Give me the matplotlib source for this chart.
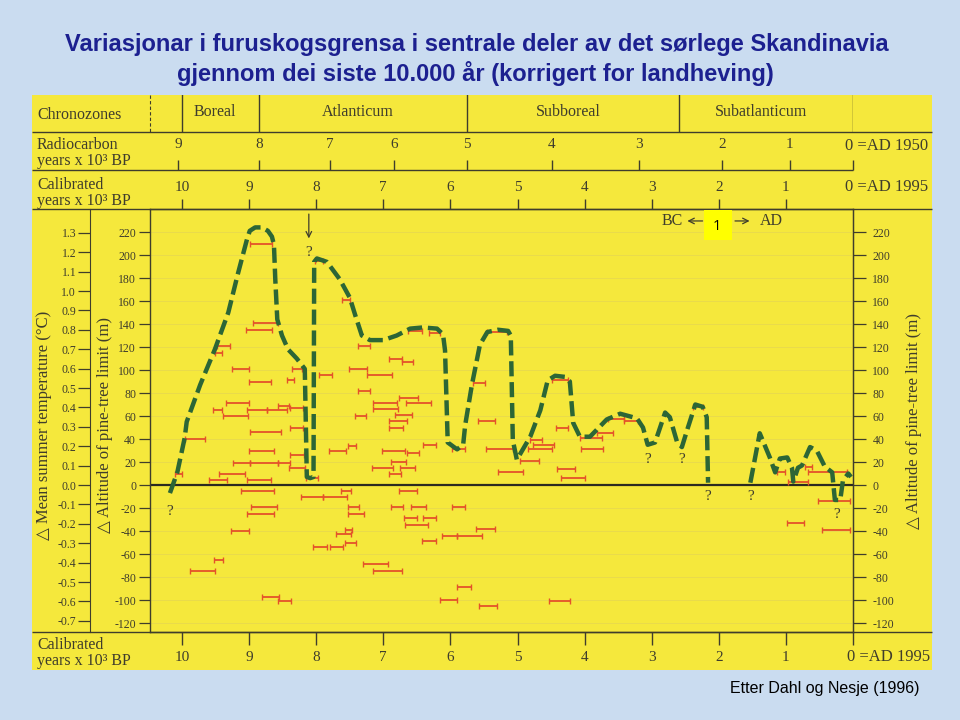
import matplotlib.pyplot as plt
from matplotlib.patches import Rectangle

# values: calibrated kyr BP and metres relative to present pine limit
curve1_kyr = [10.18, 10.07, 9.96, 9.93, 9.73, 9.51, 9.31, 9.17, 9.03, 8.99,
              8.91, 8.81, 8.72, 8.66, 8.63, 8.61, 8.58, 8.51, 8.42, 8.29,
              8.17, 8.14, 8.09, 8.04, 8.03, 7.99, 7.84, 7.65, 7.50, 7.42,
              7.32, 7.20, 7.00, 6.80, 6.60, 6.41, 6.20, 6.11, 6.08, 6.04,
              5.90, 5.81, 5.78, 5.68, 5.56, 5.45, 5.29, 5.14, 5.10, 5.07,
              5.01, 4.81, 4.66, 4.55, 4.44, 4.29, 4.22, 4.17, 4.07, 3.92,
              3.67, 3.47, 3.22, 3.13, 3.06, 2.95, 2.80, 2.73, 2.62, 2.55,
              2.46, 2.35, 2.24, 2.18, 2.16]
curve1_m = [-7, 11, 41, 55, 87, 118, 150, 183, 214, 221,
            224, 224, 221, 216, 209, 179, 144, 130, 118, 110,
            101, 7, 6, 7, 194, 197, 194, 179, 163, 148,
            130, 126, 126, 130, 136, 137, 136, 131, 117, 37,
            31, 35, 52, 87, 122, 133, 135, 134, 130, 39,
            22, 42, 65, 91, 95, 94, 90, 54, 42, 42,
            57, 62, 58, 50, 35, 37, 63, 59, 37, 33,
            50, 70, 68, 59, 2]
curve2_kyr = [1.53, 1.39, 1.24, 1.16, 1.09, 0.98, 0.91, 0.89, 0.82, 0.76,
              0.64, 0.54, 0.42, 0.31, 0.27, 0.19, 0.15, 0.07, 0.03]
curve2_m = [2, 45, 24, 11, 23, 24, 15, 3, 15, 17,
            33, 30, 16, 11, -13, -13, 4, 10, 7]

# dated megafossils: age range (old -> young) and altitude
bar_old = [8.99, 7.62, 8.94, 9.05, 9.48, 9.51, 7.38, 6.92, 6.72, 9.25,
           8.36, 7.51, 7.96, 7.24, 9.00, 8.44, 7.38, 5.66, 6.77, 9.34,
           7.15, 6.66, 9.54, 9.03, 8.73, 8.57, 8.39, 7.15, 9.39, 7.42,
           6.83, 6.92, 5.59, 6.92, 8.39, 5.45, 6.32, 6.63, 8.02, 8.99,
           9.96, 9.00, 7.81, 7.53, 7.02, 6.65, 6.41, 5.98, 5.47, 8.39,
           9.24, 8.99, 8.57, 6.89, 8.40, 7.17, 6.75, 6.92, 9.45, 10.10,
           9.60, 9.03, 8.15, 9.12, 7.63, 6.77, 8.23, 7.90, 8.97, 9.03,
           7.53, 7.53, 6.89, 6.59, 5.98, 6.69, 6.41, 6.68, 9.27, 7.57,
           7.70, 7.57, 8.05, 7.79, 6.42, 6.13, 5.90, 5.62, 9.52, 9.88,
           7.30, 7.15, 5.90, 6.15, 5.57, 8.81, 8.57, 5.29, 4.96, 4.84,
           4.77, 4.81, 4.41, 4.35, 4.05, 4.07, 3.82, 4.43, 4.53, 1.13,
           0.97, 0.72, 0.67, 0.52, 0.98, 0.46, 4.49, 3.65, 3.41, 2.38]
bar_young = [8.66, 7.50, 8.57, 8.66, 9.28, 9.40, 7.20, 6.72, 6.56, 9.00,
             8.21, 7.24, 7.76, 6.87, 8.67, 8.33, 7.20, 5.48, 6.48, 9.00,
             6.80, 6.29, 9.40, 8.73, 8.44, 8.40, 8.20, 6.78, 9.02, 7.26,
             6.57, 6.65, 5.34, 6.71, 8.20, 5.16, 6.15, 6.42, 7.90, 8.52,
             9.66, 8.63, 7.56, 7.41, 6.68, 6.47, 6.21, 5.78, 5.07, 8.18,
             8.99, 8.57, 8.39, 6.66, 8.17, 6.86, 6.53, 6.74, 9.06, 10.00,
             9.33, 8.67, 7.97, 8.63, 7.48, 6.50, 7.90, 7.54, 8.58, 8.63,
             7.36, 7.29, 6.71, 6.36, 5.78, 6.50, 6.21, 6.33, 9.00, 7.47,
             7.48, 7.41, 7.84, 7.60, 6.21, 5.90, 5.53, 5.34, 9.39, 9.51,
             6.93, 6.72, 5.69, 5.90, 5.31, 8.55, 8.38, 4.92, 4.68, 4.49,
             4.46, 4.63, 4.14, 3.99, 3.73, 3.74, 3.58, 4.25, 4.22, 1.01,
             0.67, 0.61, 0.09, 0.04, 0.73, 0.04, 4.25, 3.41, 3.20, 2.24]
bar_alt = [210, 161, 141, 135, 121, 115, 121, 110, 107, 101,
           101, 101, 96, 96, 90, 91, 82, 89, 76, 71,
           71, 71, 65, 65, 65, 69, 67, 66, 60, 60,
           61, 56, 56, 50, 50, 133, 132, 134, 195, 46,
           40, 30, 30, 34, 30, 28, 35, 31, 31, 26,
           19, 19, 19, 20, 15, 15, 15, 10, 10, 10,
           4, 4, 6, -5, -5, -5, -10, -10, -19, -25,
           -19, -25, -19, -19, -19, -29, -29, -35, -40, -39,
           -43, -50, -54, -54, -49, -44, -44, -38, -65, -75,
           -69, -75, -89, -100, -105, -97, -101, 11, 21, 31,
           35, 39, 14, 6, 31, 41, 45, 50, -101, 11,
           3, 16, 11, -14, -33, -39, 91, 57, 56, 68]

question_kyr = [10.18, 8.11, 3.06, 2.55, 2.16, 1.53, 0.24]
question_m = [-23, 202, 22, 22, -10, -10, -26]

chronozones = ['Boreal', 'Atlanticum', 'Subboreal', 'Subatlanticum']
chrono_bounds = [10.0, 8.85, 5.75, 2.59, 0.0]
radiocarbon_kyr = [9, 8, 7, 6, 5, 4, 3, 2, 1, 0]
radiocarbon_as_cal = [10.06, 8.85, 7.79, 6.84, 5.75, 4.49, 3.19, 1.95, 0.94, 0.0]
cal_kyr = [10, 9, 8, 7, 6, 5, 4, 3, 2, 1]
alt_ticks = list(range(-120, 221, 20))
temp_ticks = [-0.7, -0.6, -0.5, -0.4, -0.3, -0.2, -0.1, 0.0, 0.1, 0.2, 0.3,
              0.4, 0.5, 0.6, 0.7, 0.8, 0.9, 1.0, 1.1, 1.2, 1.3]

BG = '#cadcf0'
YEL = '#f5e83c'
INK = '#3f3d2c'
GREEN = '#2c6636'
RED = '#e4522a'
GRID = '#e9db4c'
NAVY = '#1c2090'
SERIF = ['Liberation Serif', 'DejaVu Sans']

plt.rcParams['font.family'] = SERIF

W, H = 960, 720
XL = (10.477, 0.0)
YL = (-127.8, 240.0)


def px(x0, y0, x1, y1):
    return [x0 / W, 1 - y1 / H, (x1 - x0) / W, (y1 - y0) / H]


fig = plt.figure(figsize=(9.6, 7.2), dpi=100, facecolor=BG)

# background panel and table rules, in pixel space
deco = fig.add_axes([0, 0, 1, 1])
deco.set_xlim(0, W)
deco.set_ylim(H, 0)
deco.axis('off')
deco.add_patch(Rectangle((32, 95), 900, 575, fc=YEL, ec='none'))
deco.hlines([132, 209, 632], 32, 932, color=INK, lw=1)
deco.hlines(170, 32, 853, color=INK, lw=1)
deco.vlines(150, 95, 132, color=INK, lw=0.8, linestyles=(0, (3, 2)))

deco.text(37, 115, 'Chronozones', fontsize=11.5, color=INK, va='center')
deco.text(37, 153, 'Radiocarbon\nyears x 10³ BP', fontsize=11.5, color=INK,
          va='center', linespacing=0.95)
deco.text(37, 193, 'Calibrated\nyears x 10³ BP', fontsize=11.5, color=INK,
          va='center', linespacing=0.95)
deco.text(37, 653, 'Calibrated\nyears x 10³ BP', fontsize=11.5, color=INK,
          va='center', linespacing=0.95)
deco.text(44, 425, '△ Mean summer temperature (°C)', fontsize=12, color=INK,
          rotation=90, ha='center', va='center')
deco.text(105, 425, '△ Altitude of pine-tree limit (m)', fontsize=12, color=INK,
          rotation=90, ha='center', va='center')
deco.text(914, 421, '△ Altitude of pine-tree limit (m)', fontsize=12, color=INK,
          rotation=90, ha='center', va='center')

# main plot
ax = fig.add_axes(px(150, 209, 853, 632))
ax.patch.set_alpha(0)
ax.set_xlim(XL)
ax.set_ylim(YL)
ax.set_xticks([])
ax.set_yticks(alt_ticks)
ax.set_yticklabels([str(v) for v in alt_ticks])
ax.tick_params(axis='y', direction='out', length=8, width=0.9, pad=2,
               labelsize=8.5, color=INK, labelcolor=INK)
for s in ax.spines.values():
    s.set_color(INK)
    s.set_linewidth(1)
ax.grid(axis='y', color=GRID, lw=0.7)
ax.set_axisbelow(True)

right = ax.secondary_yaxis('right')
right.set_yticks(alt_ticks)
right.set_yticklabels([str(v) for v in alt_ticks])
right.tick_params(direction='out', length=9, width=0.9, pad=5,
                  labelsize=8.5, color=INK, labelcolor=INK)
right.spines['right'].set_color(INK)

temp = ax.secondary_yaxis(-60 / 703, functions=(lambda m: m / 168.7,
                                                 lambda t: t * 168.7))
temp.set_yticks(temp_ticks)
temp.set_yticklabels([f'{v:.1f}' for v in temp_ticks])
temp.tick_params(direction='out', length=9, width=0.9, pad=1,
                 labelsize=8.5, color=INK, labelcolor=INK)
temp.spines['left'].set_color(INK)

ax.axhline(0, color='#2b2a20', lw=1.6, zorder=2)

mid = [(o + y) / 2 for o, y in zip(bar_old, bar_young)]
half = [(o - y) / 2 for o, y in zip(bar_old, bar_young)]
ax.errorbar(mid, bar_alt, xerr=half, fmt='none', ecolor=RED,
            elinewidth=1.3, capsize=2.2, capthick=1, zorder=3)

dash = (0, (3.4, 1.3))
ax.plot(curve1_kyr, curve1_m, color=GREEN, lw=3.2, ls=dash,
        solid_joinstyle='round', zorder=4)
ax.plot(curve2_kyr, curve2_m, color=GREEN, lw=3.2, ls=dash,
        solid_joinstyle='round', zorder=4)

for qx, qy in zip(question_kyr, question_m):
    ax.text(qx, qy, '?', ha='center', va='center', fontsize=11, color=INK)

ax.annotate('', xy=(8.11, 212), xytext=(8.11, 238),
            arrowprops=dict(arrowstyle='->', color=INK, lw=0.9))

# BC / AD marker
ax.text(2.53, 229.6, 'BC', ha='right', va='center', fontsize=11.5, color=INK)
ax.text(1.39, 229.6, 'AD', ha='left', va='center', fontsize=11.5, color=INK)
ax.annotate('', xy=(2.51, 229.6), xytext=(2.2, 229.6),
            arrowprops=dict(arrowstyle='->', color=INK, lw=0.9))
ax.annotate('', xy=(1.50, 229.6), xytext=(1.8, 229.6),
            arrowprops=dict(arrowstyle='->', color=INK, lw=0.9))
fig.add_artist(Rectangle((704 / W, 1 - 240 / H), 28 / W, 30 / H,
                         transform=fig.transFigure, fc='#ffff00', ec='none',
                         zorder=10))
fig.text(717 / W, 1 - 226 / H, '1', ha='center', va='center', fontsize=10.5,
         family='Open Sans', color='black', zorder=11)


# header rows share the calibrated time scale
def row(y0, y1):
    r = fig.add_axes(px(150, y0, 853, y1))
    r.set_xlim(XL)
    r.set_ylim(0, 1)
    r.patch.set_alpha(0)
    for s in r.spines.values():
        s.set_visible(False)
    r.set_yticks([])
    return r


chrono = row(95, 132)
chrono.set_xticks([])
for b in chrono_bounds:
    chrono.axvline(b, color=INK, lw=1)
for name, a, b in zip(chronozones, chrono_bounds[:-1], chrono_bounds[1:]):
    chrono.text((a + b) / 2 + 0.08, 0.55, name, ha='center', va='center',
                fontsize=11.5, color=INK)

rc = row(132, 170)
rc.set_xticks(radiocarbon_as_cal)
rc.tick_params(axis='x', direction='in', length=7, width=1, color=INK,
               labelbottom=False)
for v, c in zip(radiocarbon_kyr, radiocarbon_as_cal):
    if v:
        rc.text(c, 0.68, str(v), ha='center', va='center', fontsize=11, color=INK)
rc.text(0.12, 0.62, '0 =AD 1950', ha='left', va='center', fontsize=12, color=INK)

cal = row(170, 209)
cal.set_xticks(cal_kyr)
cal.tick_params(axis='x', direction='in', length=7, width=1, color=INK,
                labelbottom=False)
for v in cal_kyr:
    cal.text(v, 0.56, str(v), ha='center', va='center', fontsize=11, color=INK)
cal.text(0.12, 0.56, '0 =AD 1995', ha='left', va='center', fontsize=12, color=INK)

bot = row(632, 670)
bot.set_xticks(cal_kyr + [0])
bot.tick_params(axis='x', bottom=False, top=True, direction='in', length=9,
                width=1, color=INK, labelbottom=False)
for v in cal_kyr:
    bot.text(v, 0.34, str(v), ha='center', va='center', fontsize=11, color=INK)
bot.text(0.09, 0.34, '0 =AD 1995', ha='left', va='center', fontsize=12, color=INK)

fig.text(477 / W, 1 - 45 / H,
         'Variasjonar i furuskogsgrensa i sentrale deler av det sørlege Skandinavia',
         ha='center', va='center', fontsize=17, weight='bold', color=NAVY,
         family='Liberation Sans')
fig.text(475 / W, 1 - 73 / H,
         'gjennom dei siste 10.000 år (korrigert for landheving)',
         ha='center', va='center', fontsize=17, weight='bold', color=NAVY,
         family='Liberation Sans')
fig.text(825 / W, 1 - 688 / H, 'Etter Dahl og Nesje (1996)', ha='center',
         va='center', fontsize=11.5, color='black', family='Liberation Sans')

fig.savefig('out.png', dpi=100, facecolor=BG)
